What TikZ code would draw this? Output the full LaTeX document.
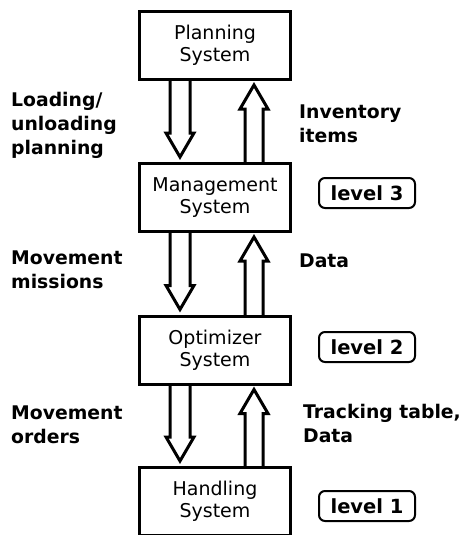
\documentclass[tikz,border=0pt]{standalone}
\usepackage{fontspec}
\setmainfont{DejaVu Sans}
\usetikzlibrary{calc}
\newcommand\flowdown[2]{%
  \draw[flow] ($(#1.south)+(-45,-1.5)$) -- ($(#2.north)+(-45,-29)$) -- ($(#2.north)+(-49,-29)$)
    -- ($(#2.north)+(-35,-5)$) -- ($(#2.north)+(-21,-29)$) -- ($(#2.north)+(-25,-29)$)
    -- ($(#1.south)+(-25,-1.5)$);}
\newcommand\flowup[2]{%
  \draw[flow] ($(#2.north)+(30,1.5)$) -- ($(#1.south)+(30,28)$) -- ($(#1.south)+(25,28)$)
    -- ($(#1.south)+(39,4)$) -- ($(#1.south)+(53,28)$) -- ($(#1.south)+(48,28)$)
    -- ($(#2.north)+(48,1.5)$);}
\begin{document}
\begin{tikzpicture}[x=1pt,y=-1pt,
  sysbox/.style={draw,line width=3pt,minimum width=151pt,minimum height=68pt,inner sep=0pt,
    align=center,font=\fontsize{19}{22}\selectfont},
  lvl/.style={draw,line width=2pt,rounded corners=6pt,minimum width=96pt,minimum height=30pt,
    inner sep=0pt,font=\bfseries\fontsize{19.5}{24}\selectfont},
  lab/.style={anchor=base west,inner sep=0pt,align=left,font=\bfseries\fontsize{18.8}{24}\selectfont},
  flow/.style={line width=3pt,line join=miter}]
\useasboundingbox (0,0) rectangle (465,535);
\clip (0,0) rectangle (465,535);
\node[sysbox] (plan) at (215,45.5) {Planning\\System};
\node[sysbox] (mgmt) at (215,197.5) {Management\\System};
\node[sysbox] (opt) at (215,350) {Optimizer\\System};
\node[sysbox] (hand) at (215,501.5) {Handling\\System};
\flowdown{plan}{mgmt}
\flowup{plan}{mgmt}
\flowdown{mgmt}{opt}
\flowup{mgmt}{opt}
\flowdown{opt}{hand}
\flowup{opt}{hand}
\node[lvl] (v3) at (367,193) {level 3};
\node[lvl] (v2) at (367,347) {level 2};
\node[lvl] (v1) at (367,506) {level 1};
\node[lab] (l1) at (11,154) {Loading/\\unloading\\planning};
\node[lab] (l2) at (11,288) {Movement\\missions};
\node[lab] (l3) at (11,443) {Movement\\orders};
\node[lab] (r1) at (299,142) {Inventory\\items};
\node[lab] (r2) at (299,267) {Data};
\node[lab] (r3) at (303,442) {Tracking table,\\Data};
\end{tikzpicture}
\end{document}
